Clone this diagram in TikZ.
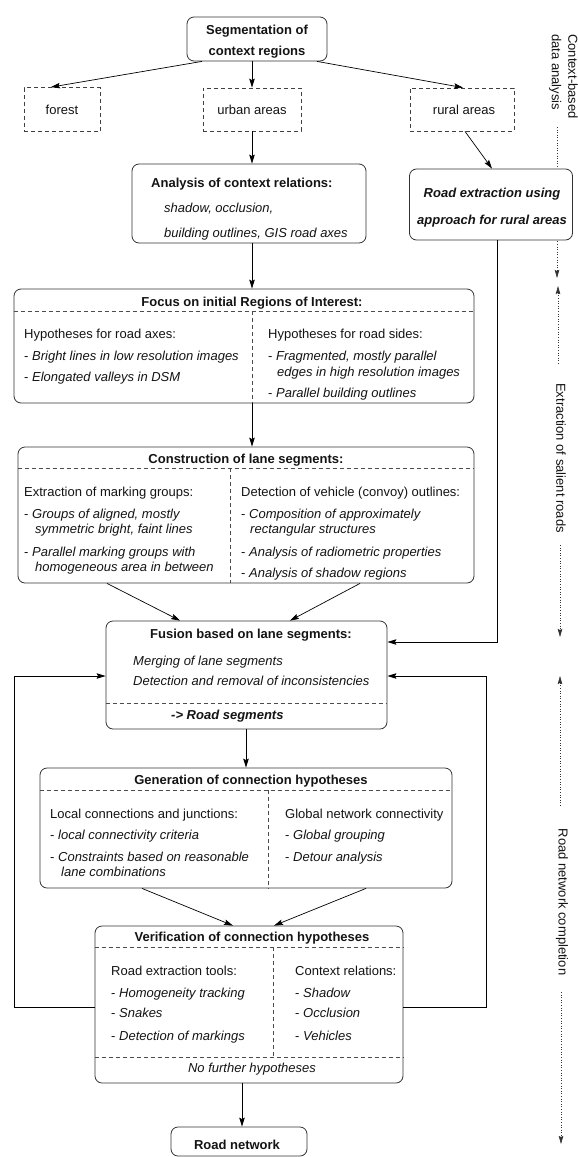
\documentclass[tikz,border=0pt]{standalone}
\usepackage{fontspec}
\setmainfont{Liberation Sans}
\usetikzlibrary{arrows.meta}
\tikzset{
  every node/.style={font=\fontsize{13}{15}\selectfont, text=black!92},
  rbox/.style={draw=black!80, line width=0.8pt, rounded corners=7pt, fill=white, inner sep=0},
  dbox/.style={draw=black!75, line width=0.8pt, dash pattern=on 4pt off 3pt, fill=white, inner sep=0},
  dsh/.style={draw=black!70, line width=0.7pt, dash pattern=on 4pt off 3pt},
  arr/.style={draw=black, line width=0.7pt, -{Stealth[length=9pt,width=5.5pt,inset=1.5pt]}},
  dots/.style={draw=black!80, line width=0.6pt, dash pattern=on 0.6pt off 2pt},
  dtip/.tip={Stealth[length=8pt,width=4.5pt,inset=1pt]},
  txt/.style={inner sep=0, anchor=base west},
  ctxt/.style={inner sep=0, anchor=base},
  rlab/.style={inner sep=0, rotate=-90}
}
\newcommand\TL[4]{\node[txt] (#1) at (#2,{#3+4.7}) {#4};}
\newcommand\TC[4]{\node[ctxt] (#1) at (#2,{#3+4.7}) {#4};}
\begin{document}
\begin{tikzpicture}[x=1pt,y=-1pt]
\fill[white] (0,0) rectangle (578,1157);
\useasboundingbox (0,0) rectangle (578,1157);

% right-hand phase column (dotted lines first, boxes cover them)
\node[rlab, align=left, anchor=west, font=\fontsize{13}{16.5}\selectfont] (lab1) at (563.5,34) {Context-based\\data analysis};
\node[rlab] (lab2) at (561,458) {Extraction of salient roads};
\node[rlab] (lab3) at (562,902) {Road network completion};
\coordinate (d1a) at (557,127); \coordinate (d1b) at (557,278);
\coordinate (d2a) at (558,286); \coordinate (d2b) at (558,365);
\coordinate (d2c) at (560,545); \coordinate (d2d) at (560,637);
\coordinate (d3a) at (560,676); \coordinate (d3b) at (560,806);
\coordinate (d3c) at (561,992); \coordinate (d3d) at (561,1144);
\draw[dots,-{dtip}] (d1a) -- (d1b);
\draw[dots,{dtip}-] (d2a) -- (d2b);
\draw[dots,-{dtip}] (d2c) -- (d2d);
\draw[dots,{dtip}-] (d3a) -- (d3b);
\draw[dots,-{dtip}] (d3c) -- (d3d);

% boxes
\node[rbox, minimum width=140, minimum height=44] (seg) at (257,39) {};
\node[dbox, minimum width=76, minimum height=44] (forest) at (62,109.5) {};
\node[dbox, minimum width=98, minimum height=43] (urban) at (252,109.5) {};
\node[dbox, minimum width=104, minimum height=43] (rural) at (462,109.5) {};
\node[rbox, minimum width=234, minimum height=79] (analysis) at (249,203.5) {};
\node[rbox, minimum width=163, minimum height=71] (road) at (491,204.5) {};
\node[rbox, minimum width=460, minimum height=114] (focus) at (244,346) {};
\node[rbox, minimum width=456, minimum height=136] (constr) at (246,515) {};
\node[rbox, minimum width=281, minimum height=108] (fusion) at (246.5,675) {};
\node[rbox, minimum width=412, minimum height=120] (gen) at (246,828) {};
\node[rbox, minimum width=308, minimum height=157] (verif) at (249,1004.5) {};
\node[rbox, minimum width=136, minimum height=29] (roadnet) at (239,1141.5) {};

% inner dashed separators
\draw[dsh] (focus.west |- 0,311) -- (focus.east |- 0,311);
\draw[dsh] (252,311) -- (252,0 |- focus.south);
\draw[dsh] (constr.west |- 0,468) -- (constr.east |- 0,468);
\draw[dsh] (230,468) -- (230,0 |- constr.south);
\draw[dsh] (fusion.west |- 0,703) -- (fusion.east |- 0,703);
\draw[dsh] (gen.west |- 0,790) -- (gen.east |- 0,790);
\draw[dsh] (268,790) -- (268,0 |- gen.south);
\draw[dsh] (verif.west |- 0,947) -- (verif.east |- 0,947);
\draw[dsh] (verif.west |- 0,1057) -- (verif.east |- 0,1057);
\draw[dsh] (273,947) -- (273,1057);

% texts
\TC{s1}{257}{30}{\bfseries Segmentation of}
\TC{s2}{257}{51}{\bfseries context regions}
\TC{t1}{62}{110}{forest}
\TC{t2}{252}{110}{urban areas}
\TC{t3}{464}{110}{rural areas}
\TL{a1}{151}{183}{\bfseries Analysis of context relations:}
\TL{a2}{164}{208}{\itshape shadow, occlusion,}
\TL{a3}{164}{233}{\itshape building outlines, GIS road axes}
\TC{r1}{492}{193}{\bfseries\itshape Road extraction using}
\TC{r2}{492}{220}{\bfseries\itshape approach for rural areas}

\TC{f0}{252}{302}{\bfseries Focus on initial Regions of Interest:}
\TL{f1}{24}{334}{Hypotheses for road axes:}
\TL{f2}{24}{356}{- \textit{Bright lines in low resolution images}}
\TL{f3}{24}{377}{- \textit{Elongated valleys in DSM}}
\TL{f4}{268}{334}{Hypotheses for road sides:}
\TL{f5}{268}{356}{- \textit{Fragmented, mostly parallel}}
\TL{f6}{277}{372}{\textit{edges in high resolution images}}
\TL{f7}{268}{393}{- \textit{Parallel building outlines}}

\TC{c0}{246}{459}{\bfseries Construction of lane segments:}
\TL{c1}{24}{492}{Extraction of marking groups:}
\TL{c2}{24}{514}{- \textit{Groups of aligned, mostly}}
\TL{c3}{35}{529}{\textit{symmetric bright, faint lines}}
\TL{c4}{24}{552}{- \textit{Parallel marking groups with}}
\TL{c5}{35}{567}{\textit{homogeneous area in between}}
\TL{c6}{241}{492}{Detection of vehicle (convoy) outlines:}
\TL{c7}{241}{514}{- \textit{Composition of approximately}}
\TL{c8}{250}{529}{\textit{rectangular structures}}
\TL{c9}{241}{552}{- \textit{Analysis of radiometric properties}}
\TL{c10}{241}{573}{- \textit{Analysis of shadow regions}}

\TC{u0}{251}{634}{\bfseries Fusion based on lane segments:}
\TL{u1}{133}{661}{\itshape Merging of lane segments}
\TL{u2}{133}{681}{\itshape Detection and removal of inconsistencies}
\TL{u3}{171}{715}{\bfseries\itshape -> Road segments}

\TC{g0}{251}{780}{\bfseries Generation of connection hypotheses}
\TL{g1}{50}{814}{Local connections and junctions:}
\TL{g2}{50}{835}{- \textit{local connectivity criteria}}
\TL{g3}{50}{857}{- \textit{Constraints based on reasonable}}
\TL{g4}{61}{872}{\textit{lane combinations}}
\TL{g5}{285}{814}{Global network connectivity}
\TL{g6}{285}{835}{- \textit{Global grouping}}
\TL{g7}{285}{857}{- \textit{Detour analysis}}

\TC{v0}{252}{937}{\bfseries Verification of connection hypotheses}
\TL{v1}{111}{971}{Road extraction tools:}
\TL{v2}{111}{993}{- \textit{Homogeneity tracking}}
\TL{v3}{111}{1013}{- \textit{Snakes}}
\TL{v4}{111}{1036}{- \textit{Detection of markings}}
\TL{v5}{295}{971}{Context relations:}
\TL{v6}{295}{993}{- \textit{Shadow}}
\TL{v7}{295}{1013}{- \textit{Occlusion}}
\TL{v8}{295}{1036}{- \textit{Vehicles}}
\TC{v9}{252}{1068}{\itshape No further hypotheses}
\TC{n1}{237}{1145}{\bfseries Road network}

% connectors
\draw[arr] (202,0 |- seg.south) -- (51,0 |- forest.north);
\draw[arr] (252,0 |- seg.south) -- (urban.north);
\draw[arr] (317,0 |- seg.south) -- (463,0 |- rural.north);
\draw[arr] (urban.south) -- (252,0 |- analysis.north);
\draw[arr] (465,0 |- rural.south) -- (492,0 |- road.north);
\draw[arr] (252,0 |- analysis.south) -- (252,0 |- focus.north);
\draw[arr] (252,0 |- focus.south) -- (252,0 |- constr.north);
\draw[arr] (107,0 |- constr.south) -- (180,0 |- fusion.north);
\draw[arr] (360,0 |- constr.south) -- (290,0 |- fusion.north);
\draw[arr] (497,0 |- road.south) -- (497,642) -- (fusion.east |- 0,642);
\draw[arr] (246,0 |- fusion.south) -- (246,0 |- gen.north);
\draw[arr] (142,0 |- gen.south) -- (233,0 |- verif.north);
\draw[arr] (366,0 |- gen.south) -- (274,0 |- verif.north);
\draw[arr] (verif.west |- 0,1007) -- (14,1007) -- (14,676) -- (fusion.west |- 0,676);
\draw[arr] (verif.east |- 0,1007) -- (486,1007) -- (486,676) -- (fusion.east |- 0,676);
\draw[arr] (242,0 |- verif.south) -- (242,0 |- roadnet.north);
\end{tikzpicture}
\end{document}
